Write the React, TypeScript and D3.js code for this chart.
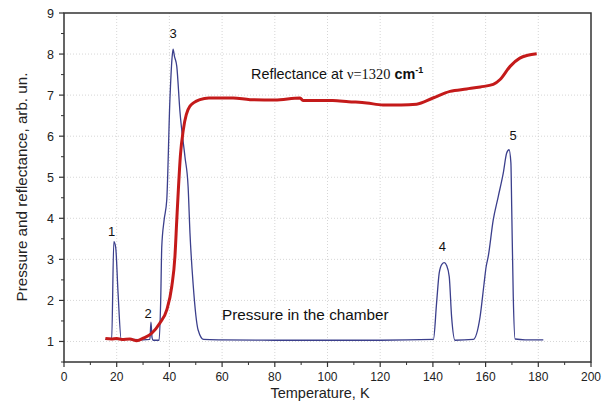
import React from "react";
import * as d3 from "d3";

const xTicks = [0, 20, 40, 60, 80, 100, 120, 140, 160, 180, 200];
const yTicks = [1, 2, 3, 4, 5, 6, 7, 8, 9];

const pressureT = [15.7, 18.1, 18.9, 19.6, 20.5, 21.7, 25, 30, 32.6, 33.0, 33.4, 33.8, 36.1, 36.7, 37.1, 38.0, 39.0, 40.2, 41.0, 41.4, 41.9, 42.8, 44.0, 45.9, 47.1, 47.8, 49.0, 50.9, 53, 60, 80, 100, 120, 140.2, 141.4, 142.4, 143.4, 144.3, 145.2, 146.2, 147.1, 148.4, 155.3, 157.9, 159.4, 160.2, 161.0, 162.9, 164.8, 166.7, 168.0, 168.9, 169.6, 169.9, 170.5, 171.2, 175, 181.9];
const pressureV = [1.05, 1.06, 3.43, 3.3, 2.2, 1.06, 1.05, 1.04, 1.05, 1.47, 1.1, 1.03, 1.03, 2.0, 3.3, 3.96, 4.45, 6.9, 7.9, 8.12, 7.95, 7.7, 6.6, 5.5, 4.77, 3.65, 2.4, 1.28, 1.05, 1.04, 1.03, 1.03, 1.03, 1.05, 1.94, 2.67, 2.88, 2.92, 2.85, 2.58, 1.6, 1.03, 1.05, 1.6, 2.4, 2.82, 3.07, 3.96, 4.53, 5.1, 5.59, 5.67, 5.35, 4.29, 2.09, 1.06, 1.04, 1.04];

const reflT = [15.7, 18, 20, 22, 25, 27.6, 30.1, 33.3, 36.4, 39.0, 40.9, 42.1, 42.8, 43.4, 44.2, 45.3, 47.8, 51.6, 55, 60, 64.2, 70.6, 80, 89.6, 90.7, 102, 108, 114.9, 121, 128, 133.8, 140, 146.5, 152.8, 158, 162.9, 165.5, 169.3, 173, 176, 179.4];
const reflV = [1.07, 1.06, 1.07, 1.05, 1.06, 1.02, 1.08, 1.2, 1.45, 1.77, 2.34, 3.07, 3.96, 4.7, 5.55, 6.16, 6.73, 6.89, 6.93, 6.93, 6.93, 6.89, 6.88, 6.93, 6.87, 6.87, 6.84, 6.81, 6.76, 6.76, 6.78, 6.93, 7.09, 7.15, 7.2, 7.26, 7.38, 7.7, 7.9, 7.97, 8.01];

const peakLabels = ["1", "2", "3", "4", "5"];
const peakT = [18.1, 31.9, 41.4, 143.6, 170.4];
const peakV = [3.57, 1.57, 8.4, 3.2, 5.91];

const W = 604, H = 401;
const m = { left: 64, right: 591, top: 13, bottom: 362 };

export default function App() {
  const x = d3.scaleLinear().domain([0, 200]).range([m.left, m.right]);
  const y = d3.scaleLinear().domain([0.5, 9]).range([m.bottom, m.top]);
  const pLine = d3.line<number>().x((_, i) => x(pressureT[i])).y((d) => y(d)).curve(d3.curveMonotoneX);
  const rLine = d3.line<number>().x((_, i) => x(reflT[i])).y((d) => y(d)).curve(d3.curveMonotoneX);
  const xMinor = d3.range(10, 200, 20);
  const yMinor = d3.range(0.5, 9, 1);
  const font = "'Liberation Sans', Arial, sans-serif";
  return (
    <svg width={W} height={H} style={{ position: "absolute", left: 0, top: 0, background: "#fff" }} fontFamily={font}>
      <rect x={0} y={0} width={W} height={H} fill="#fff" />
      {xTicks.slice(1, -1).map((t) => (
        <line key={"gx" + t} x1={x(t)} x2={x(t)} y1={m.top} y2={m.bottom} stroke="#ccc" strokeWidth={0.8} strokeDasharray="1,2" />
      ))}
      {yTicks.slice(0, -1).map((t) => (
        <line key={"gy" + t} x1={m.left} x2={m.right} y1={y(t)} y2={y(t)} stroke="#ccc" strokeWidth={0.8} strokeDasharray="1,2" />
      ))}
      <path d={pLine(pressureV) || ""} fill="none" stroke="#3b3f8c" strokeWidth={1.3} />
      <path d={rLine(reflV) || ""} fill="none" stroke="#c41a1a" strokeWidth={3} strokeLinejoin="round" />
      <rect x={m.left} y={m.top} width={m.right - m.left} height={m.bottom - m.top} fill="none" stroke="#333" strokeWidth={1.5} />
      {xTicks.map((t) => (
        <g key={"xt" + t}>
          <line x1={x(t)} x2={x(t)} y1={m.bottom} y2={m.bottom + 5} stroke="#333" strokeWidth={1.2} />
          <text x={x(t)} y={380.5} textAnchor="middle" fontSize={12} fill="#222">{t}</text>
        </g>
      ))}
      {xMinor.map((t) => (
        <line key={"xm" + t} x1={x(t)} x2={x(t)} y1={m.bottom} y2={m.bottom + 3} stroke="#333" strokeWidth={1} />
      ))}
      {yTicks.map((t) => (
        <g key={"yt" + t}>
          <line x1={m.left - 5} x2={m.left} y1={y(t)} y2={y(t)} stroke="#333" strokeWidth={1.2} />
          <text x={m.left - 10} y={y(t) + 4.5} textAnchor="end" fontSize={12.5} fill="#222">{t}</text>
        </g>
      ))}
      {yMinor.map((t) => (
        <line key={"ym" + t} x1={m.left - 3} x2={m.left} y1={y(t)} y2={y(t)} stroke="#333" strokeWidth={1} />
      ))}
      <text x={320} y={397.5} textAnchor="middle" fontSize={14.5} fill="#222">Temperature, K</text>
      <text transform={`translate(26.5,187) rotate(-90)`} textAnchor="middle" fontSize={15.2} fill="#222">Pressure and reflectance, arb. un.</text>
      {peakLabels.map((l, i) => (
        <text key={l} x={x(peakT[i])} y={y(peakV[i])} textAnchor="middle" fontSize={13} fill="#111">{l}</text>
      ))}
      <text x={251} y={79} fontSize={14.4} fill="#111">
        Reflectance at <tspan fontFamily="'Liberation Serif', 'Times New Roman', serif" fontSize={14.4}>ν=1320</tspan>
        <tspan fontWeight="bold"> cm</tspan>
        <tspan fontSize={9} dy={-6} fontWeight="bold">-1</tspan>
      </text>
      <text x={222} y={320} fontSize={15.3} fill="#111">Pressure in the chamber</text>
    </svg>
  );
}
